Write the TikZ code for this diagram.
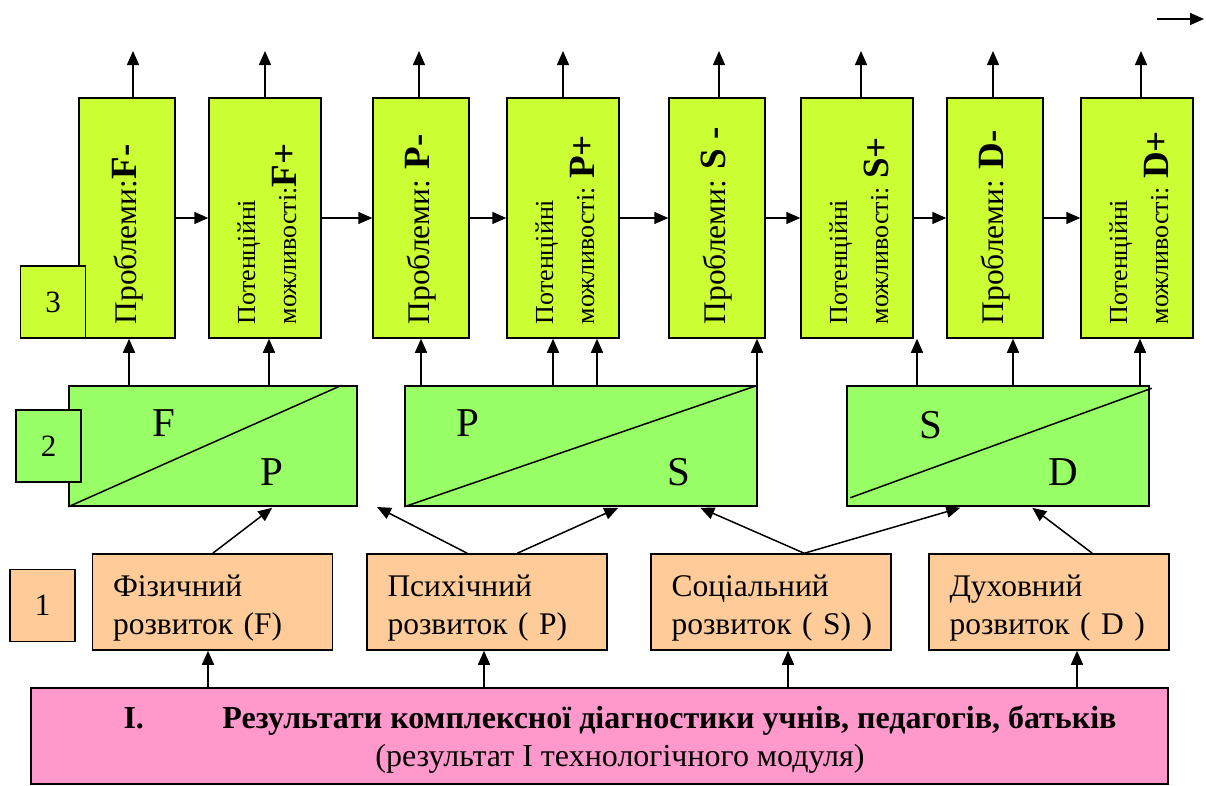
\documentclass[tikz,border=0pt]{standalone}
\usepackage{fontspec}
\setmainfont{Liberation Serif}
\usetikzlibrary{arrows.meta,calc}
\definecolor{limeg}{HTML}{CCFF33}
\definecolor{midg}{HTML}{99FF66}
\definecolor{peach}{HTML}{FFCC99}
\definecolor{pinkb}{HTML}{FF99CC}
\newcommand{\myletter}[1]{{\fontsize{37}{40}\selectfont\bfseries #1}}
\newcommand{\devtext}[2]{\mbox{\rule{0pt}{34pt}#1}\\\mbox{#2}}
\begin{document}
\begin{tikzpicture}[x=1pt,y=-1pt,line width=1.5pt,
  >={Triangle[length=14pt,width=12pt]},
  topbox/.style={draw,fill=limeg,minimum height=240pt,inner sep=0pt},
  narrow/.style={topbox,minimum width=96pt},
  wide/.style={topbox,minimum width=112pt},
  midbox/.style={draw,fill=midg,minimum height=120pt,inner sep=0pt},
  devbox/.style={draw,fill=peach,minimum width=240pt,minimum height=96pt,inner sep=0pt,text width=199pt,align=left,font=\fontsize{31.5}{38}\selectfont},
  numbox/.style={draw,minimum width=65pt,minimum height=72pt,inner sep=0pt,font=\fontsize{31}{36}\selectfont},
  rot/.style={rotate=90,anchor=base west,inner sep=0pt},
  bigp/.style={font=\fontsize{31.5}{34}\selectfont},
  smallp/.style={font=\fontsize{26}{30}\selectfont},
  letter/.style={font=\fontsize{41}{48}\selectfont,inner sep=0pt}
]
\useasboundingbox (0,0) rectangle (1206,785);

% top row
\node[narrow] (t1) at (127,218) {};
\node[wide]   (t2) at (265,218) {};
\node[narrow] (t3) at (421,218) {};
\node[wide]   (t4) at (563,218) {};
\node[narrow] (t5) at (717,218) {};
\node[wide]   (t6) at (857,218) {};
\node[narrow] (t7) at (995,218) {};
\node[wide]   (t8) at (1137,218) {};

\node[rot,bigp] (l1) at ($(t1.center)+(9,107)$) {Проблеми:\myletter{F-}};
\node[rot,smallp] (l2a) at ($(t2.center)+(-10,107)$) {Потенційні};
\node[rot,smallp] (l2b) at ($(t2.center)+(31,107)$) {можливості:\myletter{F+}};
\node[rot,bigp] (l3) at ($(t3.center)+(8,107)$) {Проблеми: \myletter{P-}};
\node[rot,smallp] (l4a) at ($(t4.center)+(-10,107)$) {Потенційні};
\node[rot,smallp] (l4b) at ($(t4.center)+(31,107)$) {можливості: \myletter{P+}};
\node[rot,bigp] (l5) at ($(t5.center)+(8,107)$) {Проблеми: \myletter{S -}};
\node[rot,smallp] (l6a) at ($(t6.center)+(-10,107)$) {Потенційні};
\node[rot,smallp] (l6b) at ($(t6.center)+(31,107)$) {можливості: \myletter{S+}};
\node[rot,bigp] (l7) at ($(t7.center)+(8,107)$) {Проблеми: \myletter{D-}};
\node[rot,smallp] (l8a) at ($(t8.center)+(-10,107)$) {Потенційні};
\node[rot,smallp] (l8b) at ($(t8.center)+(31,107)$) {можливості: \myletter{D+}};

\node[numbox,fill=limeg] (n3) at (53,302) {3};

% horizontal arrows
\foreach \i/\j in {1/2,2/3,3/4,4/5,5/6,6/7,7/8}
  \draw[->] (t\i.east) -- (t\j.west);

% up arrows
\coordinate (u1) at (133,51);
\coordinate (u2) at (265,51);
\coordinate (u3) at (419,51);
\coordinate (u4) at (563,51);
\coordinate (u5) at (719,51);
\coordinate (u6) at (861,51);
\coordinate (u7) at (993,51);
\coordinate (u8) at (1141,51);
\foreach \i in {1,...,8}
  \draw[->] (t\i.north -| u\i) -- (u\i);

\coordinate (tr1) at (1157,19);
\coordinate (tr2) at (1204,19);
\draw[->] (tr1) -- (tr2);

% middle row
\node[midbox,minimum width=288pt] (r1) at (213,446) {};
\node[midbox,minimum width=352pt] (r2) at (581,446) {};
\node[midbox,minimum width=302pt] (r3) at (998,446) {};
\draw (r1.south west) -- ($(r1.north east)+(-16,0)$);
\draw (r2.south west) -- (r2.north east);
\draw ($(r3.south west)+(4,-9)$) -- ($(r3.north east)+(2,3)$);
\node[letter] (f1) at (164,423) {F};
\node[letter] (p1) at (272,472) {P};
\node[letter] (p2) at (468,423) {P};
\node[letter] (s2) at (679,472) {S};
\node[letter] (s3) at (931,425) {S};
\node[letter] (d3) at (1063,472) {D};

\node[numbox,fill=midg] (n2) at (48.5,446) {2};

% middle -> top arrows
\coordinate (a1) at (129,0);
\coordinate (a2) at (269,0);
\coordinate (a3) at (421,0);
\coordinate (a4) at (553,0);
\coordinate (a5) at (597,0);
\coordinate (a6) at (757,0);
\coordinate (a7) at (917,0);
\coordinate (a8) at (1013,0);
\coordinate (a9) at (1140,0);
\draw[->] (r1.north -| a1) -- (t1.south -| a1);
\draw[->] (r1.north -| a2) -- (t2.south -| a2);
\draw[->] (r2.north -| a3) -- (t3.south -| a3);
\draw[->] (r2.north -| a4) -- (t4.south -| a4);
\draw[->] (r2.north -| a5) -- (t4.south -| a5);
\draw[->] (r2.north -| a6) -- (t5.south -| a6);
\draw[->] (r3.north -| a7) -- (t6.south -| a7);
\draw[->] (r3.north -| a8) -- (t7.south -| a8);
\draw[->] (r3.north -| a9) -- (t8.south -| a9);

% development row
\node[devbox] (o1) at (212.5,602) {\devtext{Фізичний}{розвиток (F)}};
\node[devbox] (o2) at (487,602) {\devtext{Психічний}{розвиток ( P)}};
\node[devbox] (o3) at (771,602) {\devtext{Соціальний}{розвиток ( S) )}};
\node[devbox] (o4) at (1049,602) {\devtext{Духовний}{розвиток ( D )}};
\node[numbox,fill=peach] (n1) at (42.5,605.5) {1};

\coordinate (free1) at (377,507);
\draw[->] ($(o1.north west)+(121,0)$) -- ($(r1.south west)+(204,1)$);
\draw[->] ($(o2.north west)+(101,0)$) -- (free1);
\draw[->] ($(o2.north west)+(151,0)$) -- ($(r2.south west)+(214,1)$);
\draw[->] ($(o3.north west)+(154,0)$) -- ($(r2.south west)+(296,1)$);
\draw[->] ($(o3.north west)+(154,0)$) -- ($(r3.south west)+(114,1)$);
\draw[->] ($(o4.north west)+(164,0)$) -- ($(r3.south west)+(186,1)$);

% bottom
\node[draw,fill=pinkb,minimum width=1137pt,minimum height=96pt,inner sep=0pt] (b) at (599.5,736) {};
\node[font=\fontsize{32}{38}\selectfont,align=center,inner sep=0pt] (btxt) at (620,739)
  {\textbf{\makebox[99pt][l]{I.}Результати комплексної діагностики учнів, педагогів, батьків}\\(результат I технологічного модуля)};

\coordinate (k1) at (208,0);
\coordinate (k2) at (484,0);
\coordinate (k3) at (788,0);
\coordinate (k4) at (1077,0);
\draw[->] (b.north -| k1) -- (o1.south -| k1);
\draw[->] (b.north -| k2) -- (o2.south -| k2);
\draw[->] (b.north -| k3) -- (o3.south -| k3);
\draw[->] (b.north -| k4) -- (o4.south -| k4);
\end{tikzpicture}
\end{document}
